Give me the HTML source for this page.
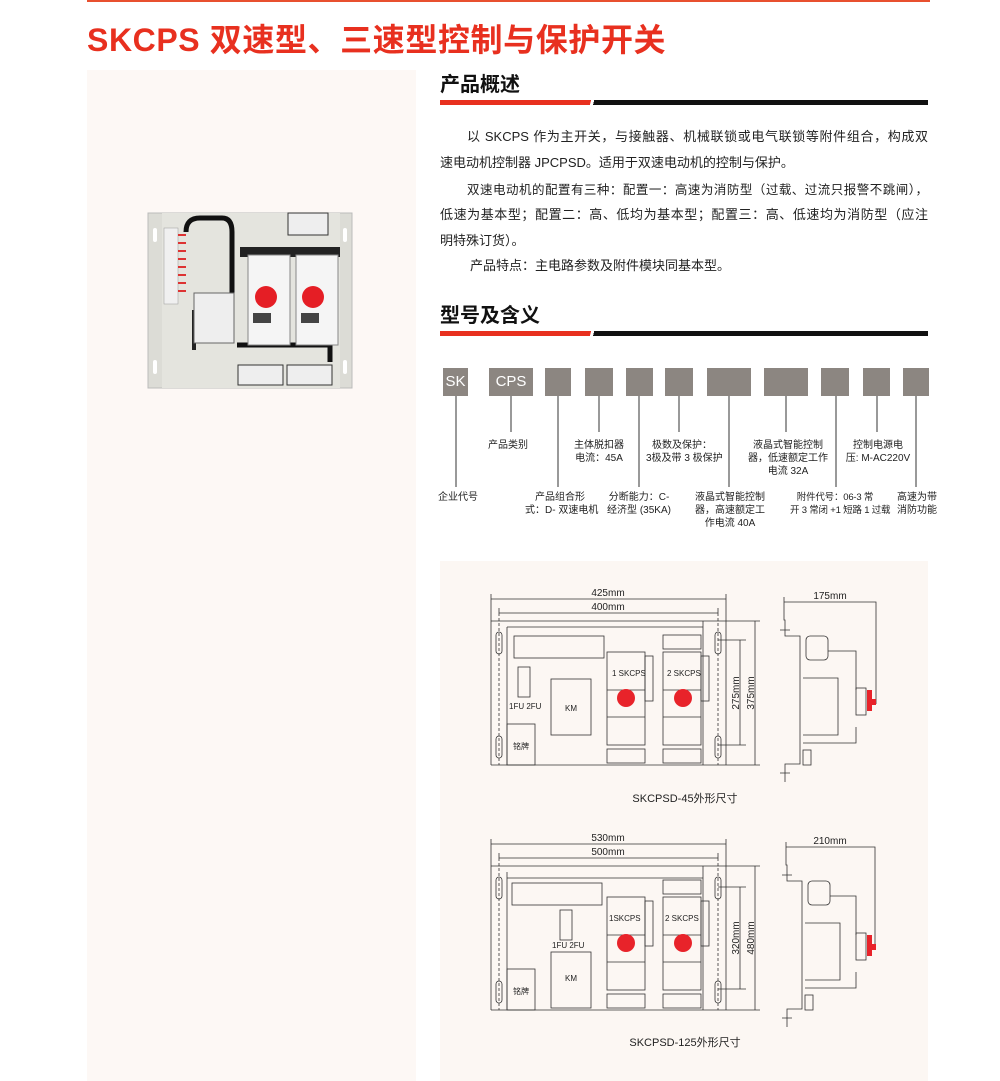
<!DOCTYPE html>
<html><head><meta charset="utf-8">
<style>
body{margin:0;background:#fff;}
#p{position:relative;width:1000px;height:1081px;overflow:hidden;font-family:"Liberation Sans","Noto Sans CJK SC",sans-serif;color:#222;}
.a{position:absolute;white-space:nowrap;}
.t{font-size:13px;line-height:26px;}
.j{text-align:justify;text-align-last:justify;width:488px;}
.h{font-size:20px;font-weight:bold;color:#111;}
.lb{font-size:10px;line-height:13px;text-align:center;color:#222;}
.bx{position:absolute;top:368px;height:28px;background:#8c8681;color:#fff;font-size:15px;line-height:28px;text-align:center;}
</style></head><body><div id="p">
<div class="a" style="left:87px;top:0;width:843px;height:2px;background:#e8502f"></div>
<div class="a" style="left:87px;top:20px;font-size:32px;font-weight:bold;color:#e8301f;letter-spacing:0.6px;line-height:40px">SKCPS 双速型、三速型控制与保护开关</div>
<div class="a" style="left:87px;top:70px;width:329px;height:1011px;background:#fdf8f5"></div>
<div class="a" style="left:440px;top:561px;width:488px;height:520px;background:#fcf7f3"></div>

<div class="a h" style="left:440px;top:68px">产品概述</div>
<div class="a" style="left:440px;top:100px;width:488px;height:5px;background:linear-gradient(105deg,#e8301f 0,#e8301f 146px,#fff 146px,#fff 149px,#111 149px)"></div>
<div class="a h" style="left:440px;top:299px">型号及含义</div>
<div class="a" style="left:440px;top:331px;width:488px;height:5px;background:linear-gradient(105deg,#e8301f 0,#e8301f 146px,#fff 146px,#fff 149px,#111 149px)"></div>

<div class="a t j" style="left:440px;top:124px;padding-left:27px;width:461px">以 SKCPS 作为主开关，与接触器、机械联锁或电气联锁等附件组合，构成双</div>
<div class="a t" style="left:440px;top:150px">速电动机控制器 JPCPSD。适用于双速电动机的控制与保护。</div>
<div class="a t j" style="left:440px;top:177px;padding-left:27px;width:461px;font-size:12.5px">双速电动机的配置有三种：配置一：高速为消防型（过载、过流只报警不跳闸），</div>
<div class="a t j" style="left:440px;top:202px">低速为基本型；配置二：高、低均为基本型；配置三：高、低速均为消防型（应注</div>
<div class="a t" style="left:440px;top:228px">明特殊订货）。</div>
<div class="a t" style="left:470px;top:253px">产品特点：主电路参数及附件模块同基本型。</div>

<div class="bx" style="left:443px;width:25px">SK</div>
<div class="bx" style="left:489px;width:44px">CPS</div>
<div class="bx" style="left:545px;width:26px"></div>
<div class="bx" style="left:585px;width:28px"></div>
<div class="bx" style="left:626px;width:27px"></div>
<div class="bx" style="left:665px;width:28px"></div>
<div class="bx" style="left:707px;width:44px"></div>
<div class="bx" style="left:764px;width:44px"></div>
<div class="bx" style="left:821px;width:28px"></div>
<div class="bx" style="left:863px;width:27px"></div>
<div class="bx" style="left:903px;width:26px"></div>

<div class="a lb" style="left:432px;top:491px;width:52px">企业代号</div>
<div class="a lb" style="left:482px;top:439px;width:52px">产品类别</div>
<div class="a lb" style="left:525px;top:491px;width:70px">产品组合形<br>式：D- 双速电机</div>
<div class="a lb" style="left:567px;top:439px;width:64px">主体脱扣器<br>电流：45A</div>
<div class="a lb" style="left:604px;top:491px;width:70px">分断能力：C-<br>经济型 (35KA)</div>
<div class="a lb" style="left:646px;top:439px;width:72px">极数及保护：<br>3极及带 3 极保护</div>
<div class="a lb" style="left:692px;top:491px;width:76px">液晶式智能控制<br>器，高速额定工<br>作电流 40A</div>
<div class="a lb" style="left:748px;top:439px;width:80px">液晶式智能控制<br>器，低速额定工作<br>电流 32A</div>
<div class="a lb" style="left:790px;top:491px;width:90px;font-size:9.5px;letter-spacing:-0.2px">附件代号：06-3 常<br>开 3 常闭 +1 短路 1 过载</div>
<div class="a lb" style="left:896px;top:491px;width:42px">高速为带<br>消防功能</div>
<div class="a lb" style="left:840px;top:439px;width:76px">控制电源电<br>压: M-AC220V</div>

<svg class="a" style="left:0;top:0" width="1000" height="1081" viewBox="0 0 1000 1081">
<g stroke="#333" stroke-width="1" fill="none">
<path d="M456 396V487M511 396V432M558 396V487M599 396V432M639 396V487M679 396V432M729 396V487M786 396V432M836 396V487M877 396V432M916 396V487"/>
</g>
<g>
<rect x="148" y="213" width="204" height="175" fill="#dcdcd6" stroke="#bbb"/>
<rect x="162" y="213" width="178" height="175" fill="#e4e4de"/>
<rect x="153" y="228" width="4" height="14" rx="2" fill="#fff"/>
<rect x="153" y="360" width="4" height="14" rx="2" fill="#fff"/>
<rect x="343" y="228" width="4" height="14" rx="2" fill="#fff"/>
<rect x="343" y="360" width="4" height="14" rx="2" fill="#fff"/>
<rect x="164" y="228" width="14" height="76" fill="#f0f0f0" stroke="#999" stroke-width=".5"/>
<g stroke="#d33" stroke-width="2"><path d="M178 235h8M178 243h8M178 251h8M178 259h8M178 267h8M178 275h8M178 283h8M178 291h8"/></g>
<path d="M186 232Q186 218 200 218H222Q232 218 232 232V340" stroke="#111" stroke-width="5" fill="none"/>
<path d="M237 345H330V362" stroke="#111" stroke-width="5" fill="none"/>
<path d="M194 310V350" stroke="#222" stroke-width="4"/>
<rect x="194" y="293" width="40" height="50" fill="#eee" stroke="#666"/>
<rect x="240" y="247" width="100" height="10" fill="#222"/>
<rect x="288" y="213" width="40" height="22" fill="#eee" stroke="#333"/>
<rect x="248" y="255" width="42" height="90" fill="#f5f5f5" stroke="#888"/>
<rect x="296" y="255" width="42" height="90" fill="#f5f5f5" stroke="#888"/>
<circle cx="266" cy="297" r="11" fill="#e51e25"/>
<circle cx="313" cy="297" r="11" fill="#e51e25"/>
<rect x="253" y="313" width="18" height="10" fill="#444"/>
<rect x="301" y="313" width="18" height="10" fill="#444"/>
<rect x="238" y="365" width="45" height="20" fill="#eee" stroke="#333"/>
<rect x="287" y="365" width="45" height="20" fill="#eee" stroke="#333"/>
</g>
<g font-family="Liberation Sans, sans-serif" font-size="10" fill="#222">
<g stroke="#333" stroke-width=".8" fill="none">
<path d="M491 594V621M726 594V765M491 599H726M499 608V613M718 608V613M499 613H718"/>
<path d="M491 621H760M491 765H760M491 621V765M507 627V765M703 621V765M507 627H703"/>
<path d="M499 613V765M718 613V765" stroke-dasharray="3,2"/>
<path d="M755 621V765M718 640H746M718 745H746M740 640V745"/>
<rect x="514" y="636" width="90" height="22"/>
<rect x="518" y="667" width="12" height="30"/>
<rect x="551" y="679" width="40" height="56"/>
<rect x="507" y="724" width="28" height="41"/>
<rect x="607" y="652" width="38" height="93"/>
<rect x="663" y="652" width="38" height="93"/>
<rect x="645" y="656" width="8" height="45"/>
<rect x="701" y="656" width="8" height="45"/>
<rect x="607" y="749" width="38" height="14"/>
<rect x="663" y="749" width="38" height="14"/>
<rect x="663" y="635" width="38" height="14"/>
<path d="M607 690H645M607 717H645M663 690H701M663 717H701"/>
<rect x="496" y="632" width="6" height="22" rx="3"/>
<rect x="496" y="736" width="6" height="22" rx="3"/>
<rect x="715" y="632" width="6" height="22" rx="3"/>
<rect x="715" y="736" width="6" height="22" rx="3"/>
<path d="M784 597V620H785V636H800V764H785V782M780 630h10M780 773h10M784 602H876V704"/>
<rect x="806" y="636" width="22" height="24" rx="4"/>
<path d="M828 651H856V690M803 678H838V735H803M856 727V743H803"/>
<rect x="803" y="750" width="8" height="15"/>
<rect x="856" y="688" width="10" height="27"/>
</g>
<g fill="#e8232a"><circle cx="626" cy="698" r="9"/><circle cx="683" cy="698" r="9"/><rect x="867" y="690" width="5" height="21"/><rect x="871" y="699" width="5" height="6"/></g>
<text x="608" y="596" text-anchor="middle">425mm</text>
<text x="608" y="610" text-anchor="middle">400mm</text>
<text x="830" y="599" text-anchor="middle">175mm</text>
<text x="612" y="676" font-size="8">1 SKCPS</text>
<text x="667" y="676" font-size="8">2 SKCPS</text>
<text x="571" y="711" text-anchor="middle" font-size="8">KM</text>
<text x="509" y="709" font-size="8">1FU 2FU</text>
<text x="521" y="749" text-anchor="middle" font-size="8">铭牌</text>
<text transform="translate(739 693) rotate(-90)" text-anchor="middle">275mm</text>
<text transform="translate(754 693) rotate(-90)" text-anchor="middle">375mm</text>
</g>
<g transform="translate(0 245)" font-family="Liberation Sans, sans-serif" font-size="10" fill="#222">
<g stroke="#333" stroke-width=".8" fill="none">
<path d="M491 594V621M726 594V765M491 599H726M499 608V613M718 608V613M499 613H718"/>
<path d="M491 621H760M491 765H760M491 621V765M507 627V765M703 621V765M507 633H703"/>
<path d="M499 613V765M718 613V765" stroke-dasharray="3,2"/>
<path d="M755 621V765M718 642H746M718 744H746M740 642V744"/>
<rect x="512" y="638" width="90" height="22"/>
<rect x="560" y="665" width="12" height="30"/>
<rect x="551" y="707" width="40" height="56"/>
<rect x="507" y="724" width="28" height="41"/>
<rect x="607" y="652" width="38" height="93"/>
<rect x="663" y="652" width="38" height="93"/>
<rect x="645" y="656" width="8" height="45"/>
<rect x="701" y="656" width="8" height="45"/>
<rect x="607" y="749" width="38" height="14"/>
<rect x="663" y="749" width="38" height="14"/>
<rect x="663" y="635" width="38" height="14"/>
<path d="M607 690H645M607 717H645M663 690H701M663 717H701"/>
<rect x="496" y="632" width="6" height="22" rx="3"/>
<rect x="496" y="736" width="6" height="22" rx="3"/>
<rect x="715" y="632" width="6" height="22" rx="3"/>
<rect x="715" y="736" width="6" height="22" rx="3"/>
<path d="M786 597V620H787V636H802V764H787V782M782 630h10M782 773h10M786 602H875V704"/>
<rect x="808" y="636" width="22" height="24" rx="4"/>
<path d="M830 651H856V690M805 678H840V735H805M856 727V743H805"/>
<rect x="805" y="750" width="8" height="15"/>
<rect x="856" y="688" width="10" height="27"/>
</g>
<g fill="#e8232a"><circle cx="626" cy="698" r="9"/><circle cx="683" cy="698" r="9"/><rect x="867" y="690" width="5" height="21"/><rect x="871" y="699" width="5" height="6"/></g>
<text x="608" y="596" text-anchor="middle">530mm</text>
<text x="608" y="610" text-anchor="middle">500mm</text>
<text x="830" y="599" text-anchor="middle">210mm</text>
<text x="609" y="676" font-size="8">1SKCPS</text>
<text x="665" y="676" font-size="8">2 SKCPS</text>
<text x="571" y="736" text-anchor="middle" font-size="8">KM</text>
<text x="552" y="703" font-size="8">1FU 2FU</text>
<text x="521" y="749" text-anchor="middle" font-size="8">铭牌</text>
<text transform="translate(739 693) rotate(-90)" text-anchor="middle">320mm</text>
<text transform="translate(754 693) rotate(-90)" text-anchor="middle">480mm</text>
</g>
<text x="685" y="802" text-anchor="middle" font-family="Liberation Sans, Noto Sans CJK SC, sans-serif" font-size="11" fill="#222">SKCPSD-45外形尺寸</text>
<text x="685" y="1046" text-anchor="middle" font-family="Liberation Sans, Noto Sans CJK SC, sans-serif" font-size="11" fill="#222">SKCPSD-125外形尺寸</text>
</svg>
</div></body></html>
